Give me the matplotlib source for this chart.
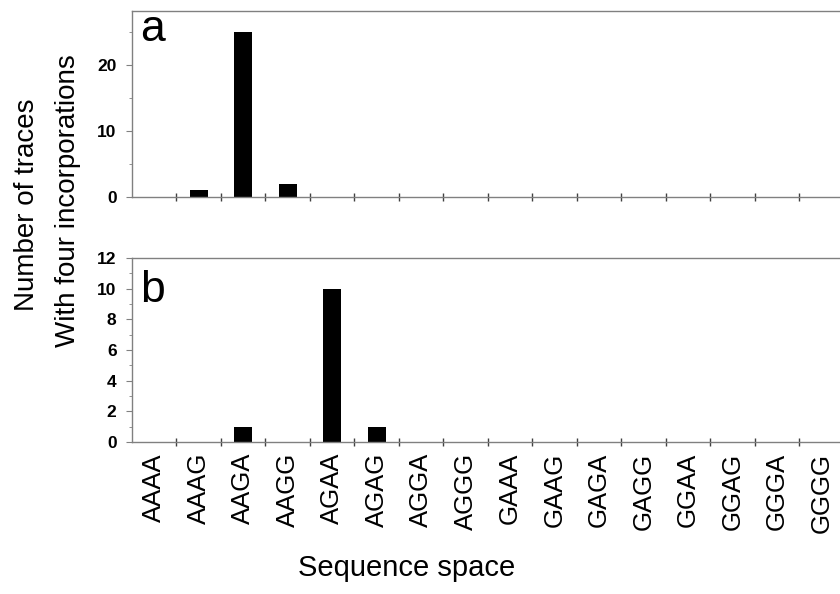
import numpy as np
from matplotlib import pyplot as plt
from matplotlib.ticker import MultipleLocator, FixedLocator

# 16 sequences along x
sequences = ['AAAA', 'AAAG', 'AAGA', 'AAGG', 'AGAA', 'AGAG', 'AGGA', 'AGGG',
             'GAAA', 'GAAG', 'GAGA', 'GAGG', 'GGAA', 'GGAG', 'GGGA', 'GGGG']
counts_a = [0, 1, 25, 2, 0, 0, 0, 0, 0, 0, 0, 0, 0, 0, 0, 0]
counts_b = [0, 0, 1, 0, 10, 1, 0, 0, 0, 0, 0, 0, 0, 0, 0, 0]

spine_gray = '#808080'
plt.rcParams['font.family'] = ['Liberation Sans', 'DejaVu Sans']


def style_axis(ax, ymax, major, minor, show_labels):
    x = np.arange(len(sequences))
    ax.set_xlim(-0.5, len(sequences) - 0.5)
    ax.set_ylim(0, ymax)
    ax.spines['right'].set_visible(False)
    for s in ['left', 'top', 'bottom']:
        ax.spines[s].set_color(spine_gray)
        ax.spines[s].set_linewidth(1.0)
    # labels at category centres, tick marks at the boundaries
    ax.set_xticks(x)
    ax.xaxis.set_minor_locator(FixedLocator(x[:-1] + 0.5))
    ax.tick_params(axis='x', which='major', length=0, pad=8)
    ax.tick_params(axis='x', which='minor', direction='inout', length=6,
                   color='#404040', width=1.0)
    if show_labels:
        ax.set_xticklabels(sequences, rotation=90, fontsize=18.5)
    else:
        ax.set_xticklabels([])
    ax.yaxis.set_major_locator(MultipleLocator(major))
    ax.yaxis.set_minor_locator(MultipleLocator(minor))
    ax.tick_params(axis='y', which='major', direction='out', length=4,
                   color=spine_gray, pad=7, labelsize=12.5)
    ax.tick_params(axis='y', which='minor', direction='out', length=2.5,
                   color=spine_gray)
    for lbl in ax.get_yticklabels():
        lbl.set_fontweight('bold')


fig = plt.figure(figsize=(8.4, 5.94), dpi=100)
ax_a = fig.add_axes([0.157, 0.6684, 0.8476, 0.3131])
ax_b = fig.add_axes([0.157, 0.2559, 0.8476, 0.3098])

pos = np.arange(len(sequences))
ax_a.bar(pos, counts_a, width=0.4, color='black')
ax_b.bar(pos, counts_b, width=0.4, color='black')

style_axis(ax_a, 28.2, 10, 5, False)
style_axis(ax_b, 12, 2, 1, True)

ax_a.text(0.011, 0.838, 'a', transform=ax_a.transAxes, fontsize=32, va='baseline')
ax_b.text(0.011, 0.761, 'b', transform=ax_b.transAxes, fontsize=32, va='baseline')

fig.text(27 / 840, 1 - 205 / 594, 'Number of traces', rotation=90,
         ha='center', va='center', fontsize=20)
fig.text(68 / 840, 1 - 201 / 594, 'With four incorporations', rotation=90,
         ha='center', va='center', fontsize=20)
fig.text(407 / 840, 1 - 568 / 594, 'Sequence space', ha='center', va='center',
         fontsize=21)

plt.savefig('out.png', dpi=100)
